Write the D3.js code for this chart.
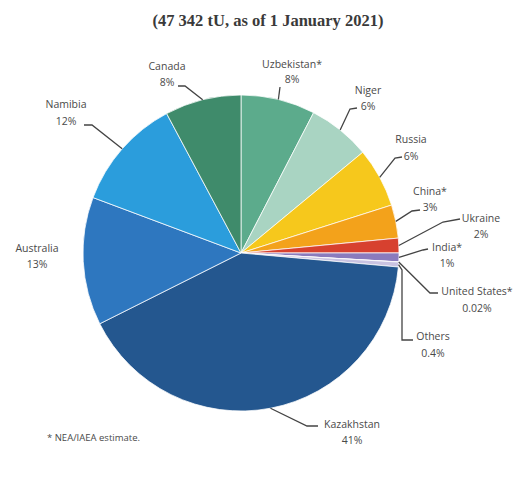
<!DOCTYPE html>
<html><head><meta charset="utf-8">
<script src="https://cdn.jsdelivr.net/npm/d3@7"></script>
<style>body{margin:0;background:#fff}svg{display:block}</style>
</head><body>
<svg id="c" width="523" height="479"></svg>
<script>
const categories = ["Uzbekistan*","Niger","Russia","China*","Ukraine","India*","United States*","Others","Kazakhstan","Australia","Namibia","Canada"];
const shares = [7.6,6.4,6.1,3.4,1.5,0.9,0.02,0.5,41.2,13.1,11.5,7.8];
const pctLabels = ["8%","6%","6%","3%","2%","1%","0.02%","0.4%","41%","13%","12%","8%"];
const colors = ["#5cab8c","#a9d4c2","#f6c81c","#f3a21b","#d7412f","#8a7bbd","#c7bfe0","#c9c3e2","#24578f","#2e77bf","#2b9ddc","#3f8b6b"];
const title = "(47 342 tU, as of 1 January 2021)";
const footnote = "* NEA/IAEA estimate.";

// label layout: text centre x, name baseline, pct baseline, leader elbow/end points
const layout = [
  {x:292, ny:68, py:83, pts:[[280,87]]},
  {x:368, ny:94, py:110, pts:[[350,109],[357,108]]},
  {x:411, ny:143, py:160, pts:[[395,158],[402,157]]},
  {x:430, ny:195, py:211, pts:[[412,211],[420,210]]},
  {x:481, ny:222, py:238, pts:[[443,222],[460,219]]},
  {x:447, ny:251, py:267, pts:[[423,250],[428,249]]},
  {x:477, ny:295, py:312, pts:[[430,293],[438,293]]},
  {x:433, ny:340, py:357, pts:[[402,270],[402,340],[413,340]]},
  {x:352, ny:428, py:444, pts:[[307,426],[318,426]]},
  {x:37, ny:252, py:268, pts:[]},
  {x:66, ny:108, py:125, pts:[[92,125],[84,125]]},
  {x:167, ny:70, py:86, pts:[[185,86],[178,86]]}
];

const svg = d3.select("#c");
const cx = 241, cy = 253, r = 158;

svg.append("text").attr("x",268).attr("y",26).attr("text-anchor","middle")
  .attr("font-family","Liberation Serif, serif").attr("font-weight","bold")
  .attr("font-size",16.5).attr("fill","#3a3a3a").text(title);

const data = categories.map((c,i)=>({name:c, value:shares[i], pct:pctLabels[i], color:colors[i], lay:layout[i]}));
const pie = d3.pie().sort(null).value(d=>d.value);
const arcs = pie(data);
const arc = d3.arc().innerRadius(0).outerRadius(r);
const g = svg.append("g").attr("transform",`translate(${cx},${cy})`);
g.selectAll("path").data(arcs).join("path")
  .attr("d",arc).attr("fill",d=>d.data.color)
  .attr("stroke","rgba(255,255,255,0.75)").attr("stroke-width",1);

const line = d3.line();
arcs.forEach(d=>{
  const L = d.data.lay;
  if (L.pts.length){
    const a = (d.startAngle+d.endAngle)/2;
    const start = [cx + r*Math.sin(a), cy - r*Math.cos(a)];
    svg.append("path").attr("d", line([start, ...L.pts]))
      .attr("fill","none").attr("stroke","#444").attr("stroke-width",1.3);
  }
  const t = svg.append("text").attr("text-anchor","middle")
    .attr("font-family","Open Sans, sans-serif").attr("font-size",10.5)
    .attr("fill","#4a4a4a");
  t.append("tspan").attr("x",L.x).attr("y",L.ny).text(d.data.name);
  t.append("tspan").attr("x",L.x).attr("y",L.py).text(d.data.pct);
});

svg.append("text").attr("x",47).attr("y",441)
  .attr("font-family","Open Sans, sans-serif").attr("font-size",9.5)
  .attr("fill","#4a4a4a").text(footnote);
</script>
</body></html>
